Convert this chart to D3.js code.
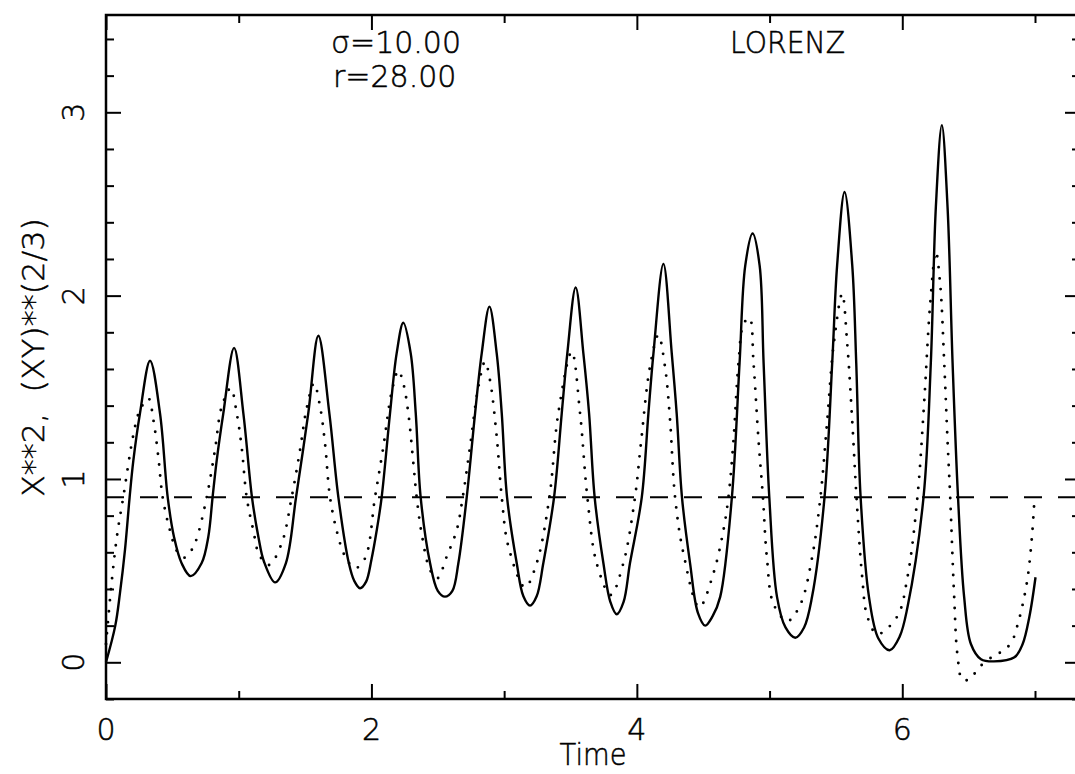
<!DOCTYPE html>
<html>
<head>
<meta charset="utf-8">
<script src="https://cdn.jsdelivr.net/npm/d3@7"></script>
<style>
  body { margin: 0; background: #fff; }
  text { font-family: "DejaVu Sans", sans-serif; font-weight: 200; fill: #000; stroke: #000; stroke-width: 0.5px; }
</style>
</head>
<body>
<svg id="chart" width="1075" height="774"></svg>
<script>
// X**2 (solid) as [time, value]
const solidCurve = [
  [0,0],[0.07,0.2],[0.105,0.376],[0.143,0.613],[0.178,0.9],[0.206,1.1],[0.256,1.358],[0.332,1.645],
  [0.407,1.358],[0.465,0.9],[0.512,0.685],[0.57,0.54],[0.638,0.47],[0.72,0.54],[0.771,0.685],[0.803,0.9],
  [0.834,1.1],[0.884,1.358],[0.965,1.715],[1.035,1.358],[1.1,0.9],[1.148,0.685],[1.19,0.55],[1.274,0.436],
  [1.355,0.54],[1.432,0.9],[1.524,1.358],[1.6,1.781],[1.683,1.358],[1.751,0.9],[1.83,0.54],[1.87,0.445],
  [1.914,0.404],[1.96,0.44],[2.0,0.56],[2.04,0.72],[2.077,0.9],[2.14,1.358],[2.19,1.685],[2.24,1.852],
  [2.296,1.685],[2.334,1.358],[2.371,0.9],[2.442,0.54],[2.5,0.39],[2.554,0.358],[2.61,0.39],[2.655,0.54],
  [2.718,0.9],[2.781,1.358],[2.831,1.685],[2.889,1.94],[2.944,1.685],[2.982,1.358],[3.022,0.9],[3.095,0.54],
  [3.145,0.36],[3.195,0.309],[3.245,0.36],[3.295,0.54],[3.376,0.9],[3.434,1.358],[3.476,1.685],[3.539,2.045],
  [3.597,1.685],[3.64,1.358],[3.682,0.9],[3.748,0.54],[3.8,0.33],[3.848,0.262],[3.9,0.33],[3.948,0.54],
  [4.037,0.9],[4.087,1.358],[4.125,1.685],[4.2,2.173],[4.263,1.685],[4.3,1.358],[4.34,0.9],[4.401,0.54],
  [4.46,0.27],[4.515,0.2],[4.57,0.25],[4.628,0.357],[4.716,0.9],[4.774,1.633],[4.817,2.165],[4.872,2.339],
  [4.925,2.165],[4.955,1.633],[4.998,0.9],[5.056,0.357],[5.12,0.19],[5.194,0.134],[5.26,0.19],[5.32,0.357],
  [5.414,0.9],[5.472,1.633],[5.509,2.165],[5.565,2.565],[5.623,2.165],[5.653,1.633],[5.686,0.9],[5.749,0.357],
  [5.82,0.13],[5.905,0.066],[5.98,0.14],[6.039,0.3],[6.16,0.9],[6.215,1.633],[6.253,2.484],[6.298,2.93],
  [6.341,2.484],[6.379,1.633],[6.42,0.9],[6.466,0.357],[6.517,0.1],[6.593,0.017],[6.69,0.005],[6.845,0.027],
  [6.907,0.1],[6.958,0.25],[7.004,0.464]
];

// (XY)**(2/3) (dotted)
const dottedCurve = [
  [0,0.1],[0.043,0.44],[0.085,0.7],[0.13,0.9],[0.206,1.24],[0.251,1.367],[0.319,1.44],[0.357,1.322],
  [0.394,1.121],[0.427,0.9],[0.482,0.72],[0.537,0.603],[0.595,0.571],[0.653,0.622],[0.688,0.685],[0.759,0.9],
  [0.821,1.158],[0.872,1.394],[0.94,1.495],[0.985,1.358],[1.023,1.167],[1.06,0.9],[1.11,0.72],[1.155,0.585],
  [1.228,0.531],[1.324,0.649],[1.399,0.9],[1.462,1.158],[1.512,1.385],[1.567,1.522],[1.613,1.394],[1.65,1.195],
  [1.688,0.9],[1.743,0.704],[1.8,0.58],[1.876,0.513],[1.952,0.567],[2.027,0.9],[2.09,1.176],[2.153,1.476],
  [2.203,1.591],[2.24,1.522],[2.278,1.358],[2.316,1.085],[2.341,0.9],[2.378,0.704],[2.442,0.503],[2.497,0.458],
  [2.567,0.576],[2.643,0.722],[2.688,0.9],[2.743,1.176],[2.806,1.503],[2.856,1.64],[2.893,1.54],[2.944,1.231],
  [2.982,0.9],[3.032,0.631],[3.157,0.409],[3.245,0.54],[3.341,0.9],[3.408,1.358],[3.509,1.694],[3.572,1.358],
  [3.627,0.9],[3.697,0.54],[3.803,0.367],[3.898,0.54],[3.986,0.9],[4.03,1.19],[4.099,1.612],[4.162,1.785],
  [4.212,1.612],[4.25,1.322],[4.288,0.9],[4.351,0.594],[4.47,0.3],[4.577,0.485],[4.652,0.719],[4.69,0.9],
  [4.728,1.208],[4.766,1.633],[4.804,1.846],[4.849,1.878],[4.879,1.633],[4.917,1.208],[4.95,0.9],[4.98,0.57],
  [5.031,0.315],[5.136,0.225],[5.232,0.315],[5.32,0.57],[5.383,0.9],[5.434,1.314],[5.484,1.739],[5.547,2.01],
  [5.585,1.739],[5.623,1.314],[5.655,0.9],[5.698,0.464],[5.736,0.251],[5.812,0.154],[5.963,0.251],[6.039,0.464],
  [6.114,0.9],[6.165,1.42],[6.21,1.952],[6.253,2.24],[6.286,2.059],[6.316,1.633],[6.341,1.208],[6.361,0.9],
  [6.391,0.357],[6.416,0.038],[6.454,-0.095],[6.517,-0.089],[6.568,-0.036],[6.694,0.038],[6.769,0.065],[6.832,0.123],
  [6.87,0.208],[6.907,0.315],[6.945,0.464],[6.976,0.676],[6.996,0.89]
];

const referenceLevel = 0.9;

const xMajorTicks = [0, 2, 4, 6];
const xMinorTicks = [1, 3, 5, 7];
const yMajorTicks = [0, 1, 2, 3];
const yMinorTicks = [-0.2, 0.2, 0.4, 0.6, 0.8, 1.2, 1.4, 1.6, 1.8, 2.2, 2.4, 2.6, 2.8, 3.2, 3.4];

const paramLines = ["\u03c3=10.00", "r=28.00"];
const modelName = "LORENZ";
const xTitle = "Time";
const yTitle = "X**2,\u00a0\u00a0(XY)**(2/3)";

const svg = d3.select("#chart");

const x = d3.scaleLinear().domain([0, 7]).range([106, 1035]);
const y = d3.scaleLinear().domain([0, 3]).range([662.3, 112.3]);

const frameLeft = x(0), frameRight = 1080;
const frameTop = 15, frameBottom = y(-0.2);

// ticks, all pointing into the plot
function tickAxis(axis, transform){
    const g = svg.append("g").attr("transform", transform).call(axis);
    g.select(".domain").remove();
    g.selectAll(".tick line").attr("stroke", "#000").attr("stroke-width", 2);
    g.selectAll(".tick text").remove();
}

tickAxis(d3.axisBottom(x).tickValues(xMajorTicks).tickSize(-15), `translate(0,${frameBottom})`);
tickAxis(d3.axisBottom(x).tickValues(xMinorTicks).tickSize(-8), `translate(0,${frameBottom})`);
tickAxis(d3.axisTop(x).tickValues(xMajorTicks).tickSize(-15), `translate(0,${frameTop})`);
tickAxis(d3.axisTop(x).tickValues(xMinorTicks).tickSize(-8), `translate(0,${frameTop})`);
tickAxis(d3.axisLeft(y).tickValues(yMajorTicks).tickSize(-15), `translate(${frameLeft},0)`);
tickAxis(d3.axisLeft(y).tickValues(yMinorTicks).tickSize(-8), `translate(${frameLeft},0)`);
tickAxis(d3.axisRight(y).tickValues(yMajorTicks).tickSize(-15), `translate(${frameRight},0)`);
tickAxis(d3.axisRight(y).tickValues(yMinorTicks).tickSize(-8), `translate(${frameRight},0)`);

svg.append("rect")
    .attr("x", frameLeft)
    .attr("y", frameTop)
    .attr("width", frameRight - frameLeft)
    .attr("height", frameBottom - frameTop)
    .attr("fill", "none")
    .attr("stroke", "#000")
    .attr("stroke-width", 2.5);

// reference level
svg.append("line")
    .attr("x1", frameLeft)
    .attr("x2", frameRight)
    .attr("y1", y(referenceLevel))
    .attr("y2", y(referenceLevel))
    .attr("stroke", "#000")
    .attr("stroke-width", 2)
    .attr("stroke-dasharray", "18,16");

const line = d3.line()
    .x(d => x(d[0]))
    .y(d => y(d[1]))
    .curve(d3.curveCatmullRom.alpha(0.5));

svg.append("path")
    .datum(dottedCurve)
    .attr("d", line)
    .attr("fill", "none")
    .attr("stroke", "#000")
    .attr("stroke-width", 2.9)
    .attr("stroke-linecap", "round")
    .attr("stroke-dasharray", "0,11");

svg.append("path")
    .datum(solidCurve)
    .attr("d", line)
    .attr("fill", "none")
    .attr("stroke", "#000")
    .attr("stroke-width", 2.4)
    .attr("stroke-linejoin", "round");

// tick labels
svg.selectAll(".xlab")
    .data(xMajorTicks)
    .enter()
    .append("text")
    .attr("class", "xlab")
    .attr("x", d => x(d))
    .attr("y", 740)
    .attr("text-anchor", "middle")
    .attr("font-size", "30px")
    .text(d => String(d));

svg.selectAll(".ylab")
    .data(yMajorTicks)
    .enter()
    .append("text")
    .attr("class", "ylab")
    .attr("transform", d => `translate(84,${y(d)}) rotate(-90)`)
    .attr("text-anchor", "middle")
    .attr("font-size", "30px")
    .text(d => String(d));

// titles
svg.append("text")
    .attr("x", 593)
    .attr("y", 765)
    .attr("text-anchor", "middle")
    .attr("font-size", "30px")
    .attr("textLength", 67)
    .attr("lengthAdjust", "spacingAndGlyphs")
    .text(xTitle);

svg.append("text")
    .attr("transform", "translate(43.5,357.5) rotate(-90)")
    .attr("text-anchor", "middle")
    .attr("font-size", "30px")
    .attr("textLength", 279)
    .attr("lengthAdjust", "spacingAndGlyphs")
    .text(yTitle);

svg.selectAll(".param")
    .data(paramLines)
    .enter()
    .append("text")
    .attr("class", "param")
    .attr("x", (d, i) => i == 0 ? 331 : 333)
    .attr("y", (d, i) => 53 + i * 34)
    .attr("font-size", "30px")
    .text(d => d);

svg.append("text")
    .attr("x", 730)
    .attr("y", 53)
    .attr("font-size", "30px")
    .attr("textLength", 115)
    .attr("lengthAdjust", "spacingAndGlyphs")
    .text(modelName);
</script>
</body>
</html>
